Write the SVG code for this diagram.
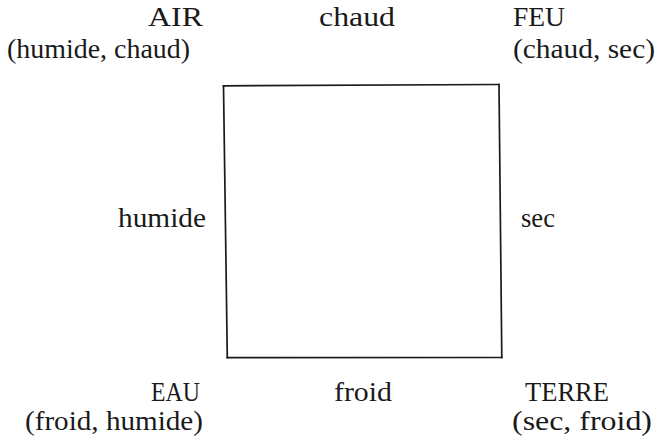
<svg xmlns="http://www.w3.org/2000/svg" width="659" height="444" viewBox="0 0 659 444">
<style>
text{font-family:"Liberation Serif","DejaVu Serif",serif;font-size:27px;fill:#1a1a1a}
.side{stroke:#1a1a1a;stroke-width:1.7;fill:none;stroke-linecap:square}
</style>
<rect width="659" height="444" fill="#ffffff"/>
<g id="connectors">
<line class="side" x1="223.5" y1="85.8" x2="499" y2="84.5"/>
<line class="side" x1="499" y1="84.5" x2="501.8" y2="357.5"/>
<line class="side" x1="501.8" y1="357.5" x2="227.3" y2="357.7"/>
<line class="side" x1="227.3" y1="357.7" x2="223.5" y2="85.8"/>
<text x="319" y="26" textLength="76" lengthAdjust="spacingAndGlyphs">chaud</text>
<text x="118" y="227" textLength="88" lengthAdjust="spacingAndGlyphs">humide</text>
<text x="521" y="227" textLength="34" lengthAdjust="spacingAndGlyphs">sec</text>
<text x="334" y="401" textLength="58" lengthAdjust="spacingAndGlyphs">froid</text>
</g>
<g id="air">
<text x="148" y="26" textLength="55" lengthAdjust="spacingAndGlyphs">AIR</text>
<text x="7" y="58" textLength="183" lengthAdjust="spacingAndGlyphs">(humide, chaud)</text>
</g>
<g id="feu">
<text x="513" y="26" textLength="52" lengthAdjust="spacingAndGlyphs">FEU</text>
<text x="513" y="58" textLength="142" lengthAdjust="spacingAndGlyphs">(chaud, sec)</text>
</g>
<g id="eau">
<text x="151" y="401" textLength="49" lengthAdjust="spacingAndGlyphs">EAU</text>
<text x="25" y="430" textLength="178" lengthAdjust="spacingAndGlyphs">(froid, humide)</text>
</g>
<g id="terre">
<text x="525" y="401" textLength="84" lengthAdjust="spacingAndGlyphs">TERRE</text>
<text x="512" y="430" textLength="140" lengthAdjust="spacingAndGlyphs">(sec, froid)</text>
</g>
</svg>
